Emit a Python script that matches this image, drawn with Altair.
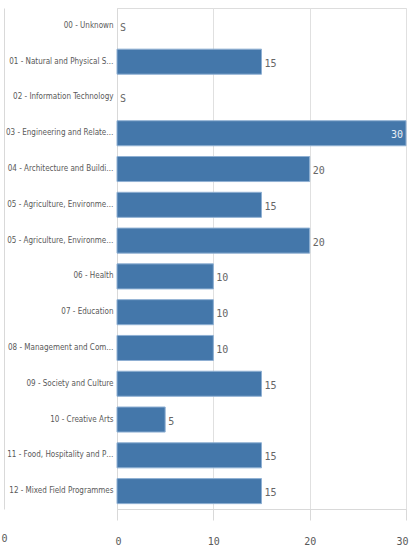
import altair as alt
import pandas as pd

categories = [
    "00 - Unknown",
    "01 - Natural and Physical S…",
    "02 - Information Technology",
    "03 - Engineering and Relate…",
    "04 - Architecture and Buildi…",
    "05 - Agriculture, Environme…",
    "05 - Agriculture, Environme…",
    "06 - Health",
    "07 - Education",
    "08 - Management and Com…",
    "09 - Society and Culture",
    "10 - Creative Arts",
    "11 - Food, Hospitality and P…",
    "12 - Mixed Field Programmes",
]
values = [None, 15, None, 30, 20, 15, 20, 10, 10, 10, 15, 5, 15, 15]
value_labels = ["S", "15", "S", "30", "20", "15", "20", "10", "10", "10", "15", "5", "15", "15"]
x_ticks = [0, 10, 20, 30]

rows = []
for i, (c, v, t) in enumerate(zip(categories, values, value_labels)):
    inside = v is not None and v >= 30
    rows.append({
        "idx": i,
        "cat": c,
        "value": v,
        "pos": v if v is not None else 0,
        "out_label": "" if inside else t,
        "in_label": t if inside else "",
    })
df = pd.DataFrame(rows)

label_expr = "[" + ",".join('"%s"' % c for c in categories) + "][datum.value]"
y_sort = list(range(len(categories)))


def y_scale():
    return alt.Scale(paddingInner=0.3, paddingOuter=0.15)


y_main = alt.Y(
    "idx:O",
    sort=y_sort,
    scale=y_scale(),
    axis=alt.Axis(
        title=None,
        labelExpr=label_expr,
        labelFont="DejaVu Sans Condensed, DejaVu Sans",
        labelFontSize=8,
        labelColor="#595959",
        labelPadding=4,
        ticks=False,
        domainColor="#d9d9d9",
        labelLimit=200,
    ),
)
y_plain = alt.Y("idx:O", sort=y_sort, scale=y_scale(), axis=None)
y_side = alt.Y(
    "idx:O",
    sort=y_sort,
    scale=y_scale(),
    axis=alt.Axis(
        orient="right",
        labels=False,
        ticks=False,
        grid=False,
        domainColor="#d9d9d9",
        offset=-402,
        title="0",
        titleAngle=0,
        titleAlign="center",
        titleBaseline="middle",
        titleX=0,
        titleY=530,
        titleFont="DejaVu Sans Mono",
        titleFontSize=10,
        titleFontWeight="normal",
        titleColor="#595959",
    ),
)
x_scale = alt.Scale(domain=[0, 30], nice=False)

bars = alt.Chart(df).mark_bar(color="#4477aa", stroke="#8fb0d3", strokeWidth=1).encode(
    x=alt.X(
        "value:Q",
        scale=x_scale,
        axis=alt.Axis(
            title=None,
            values=x_ticks,
            grid=True,
            gridColor="#e0e0e0",
            domainColor="#d9d9d9",
            tickColor="#d9d9d9",
            tickSize=11,
            labelPadding=16,
            labelFont="DejaVu Sans Mono",
            labelFontSize=10,
            labelColor="#595959",
            labelFlush=True,
            labelFlushOffset=2,
        ),
    ),
    y=y_main,
)

outside = alt.Chart(df).mark_text(
    align="left", baseline="middle", dx=3, dy=2,
    font="DejaVu Sans Mono", fontSize=10, color="#666666",
).encode(x=alt.X("pos:Q", scale=x_scale), y=y_plain, text="out_label:N")

inside = alt.Chart(df).mark_text(
    align="right", baseline="middle", dx=-3, dy=2,
    font="DejaVu Sans Mono", fontSize=10, color="#e8eef5",
).encode(x=alt.X("pos:Q", scale=x_scale), y=y_side, text="in_label:N")

chart = alt.layer(bars, outside, inside).resolve_scale(y="independent").resolve_axis(y="independent").properties(
    width=289,
    height=501,
    autosize=alt.AutoSizeParams(type="none"),
    padding={"left": 117, "top": 8, "right": 5, "bottom": 37},
).configure_view(stroke=None).configure(background="white")

chart.save("out.html", embed_options={"renderer": "svg", "actions": False})
